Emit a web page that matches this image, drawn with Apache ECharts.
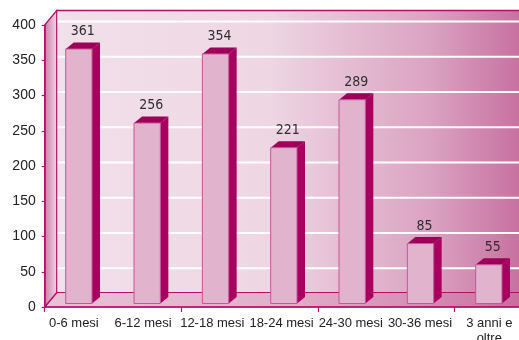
<!DOCTYPE html>
<html>
<head>
<meta charset="utf-8">
<script src="https://cdn.jsdelivr.net/npm/echarts@6/dist/echarts.min.js"></script>
<style>
  html, body { margin: 0; padding: 0; background: #ffffff; }
  #chart { width: 519px; height: 340px; }
</style>
</head>
<body>
<div id="chart"></div>
<script>
// Age classes and counts
const categories = ['0-6 mesi', '6-12 mesi', '12-18 mesi', '18-24 mesi', '24-30 mesi', '30-36 mesi', '3 anni e\noltre'];
const values = [361, 256, 354, 221, 289, 85, 55];
const yMin = 0;
const yMax = 400;
const yStep = 50;

// Palette
const MAGENTA = '#b0106c';
const BAR_SIDE = '#a8005f';
const BAR_TOP = '#9c0058';
const BAR_FRONT = '#e2b3cd';
const TEXT = '#222222';

// 3D look: depth of the room and of the bars (px)
const WALL_DX = 12, WALL_DY = 14.5;
const PLANE_LIFT = 3.5;      // bars and back gridlines sit slightly behind the axis plane
const BAR_DX = 8, BAR_DY = 6.5;

const chart = echarts.init(document.getElementById('chart'), null, { renderer: 'canvas' });

function roomItem(params, api) {
  const cs = params.coordSys;
  const left = cs.x, right = cs.x + cs.width;
  const y0 = api.coord([0, yMin])[1];
  const yTop = api.coord([0, yMax])[1];
  const children = [];

  // back wall
  children.push({
    type: 'rect',
    shape: { x: left + WALL_DX, y: yTop - WALL_DY, width: right - left - WALL_DX, height: (y0 - yTop) },
    style: {
      fill: new echarts.graphic.LinearGradient(0, 0, 1, 0, [
        { offset: 0, color: '#f1e0e9' },
        { offset: 0.45, color: '#eed7e3' },
        { offset: 0.65, color: '#e3b9d0' },
        { offset: 0.8, color: '#daa3c2' },
        { offset: 1, color: '#c76f9f' }
      ])
    }
  });
  // top border of back wall
  children.push({
    type: 'line',
    shape: { x1: left + WALL_DX, y1: yTop - WALL_DY, x2: right, y2: yTop - WALL_DY },
    style: { stroke: MAGENTA, lineWidth: 1.5 }
  });
  // white gridlines on the back wall
  for (let v = yMin + yStep; v <= yMax; v += yStep) {
    const y = api.coord([0, v])[1] - PLANE_LIFT;
    children.push({
      type: 'line',
      shape: { x1: left + WALL_DX, y1: y, x2: right, y2: y },
      style: { stroke: '#ffffff', lineWidth: 2.2 }
    });
  }
  // floor
  children.push({
    type: 'polygon',
    shape: { points: [[left, y0], [left + WALL_DX, y0 - WALL_DY], [right, y0 - WALL_DY], [right, y0]] },
    style: {
      fill: new echarts.graphic.LinearGradient(0, 0, 1, 0, [
        { offset: 0, color: '#e9c2d6' },
        { offset: 0.5, color: '#e0b0ca' },
        { offset: 0.8, color: '#d48db3' },
        { offset: 1, color: '#c86d9e' }
      ]),
      stroke: MAGENTA,
      lineWidth: 1.2
    }
  });
  // left side wall
  children.push({
    type: 'polygon',
    shape: { points: [[left, yTop], [left + WALL_DX, yTop - WALL_DY], [left + WALL_DX, y0 - WALL_DY], [left, y0]] },
    style: {
      fill: new echarts.graphic.LinearGradient(0, 0, 1, 0, [
        { offset: 0, color: '#cc79a6' },
        { offset: 1, color: '#f1d9e6' }
      ]),
      stroke: MAGENTA,
      lineWidth: 1.2
    }
  });
  return { type: 'group', children: children };
}

function barItem(params, api) {
  const i = api.value(0);
  const v = api.value(1);
  const base = api.coord([i, yMin]);
  const top = api.coord([i, v]);
  const band = api.size([1, 0])[0];
  const w = band * 0.385;
  const x0 = base[0] - w / 2;
  const yb = base[1] - PLANE_LIFT;
  const yt = top[1] - PLANE_LIFT;
  return {
    type: 'group',
    children: [
      {
        type: 'polygon',
        shape: { points: [[x0 + w, yt], [x0 + w + BAR_DX, yt - BAR_DY], [x0 + w + BAR_DX, yb - BAR_DY], [x0 + w, yb]] },
        style: { fill: BAR_SIDE }
      },
      {
        type: 'polygon',
        shape: { points: [[x0, yt], [x0 + BAR_DX, yt - BAR_DY], [x0 + w + BAR_DX, yt - BAR_DY], [x0 + w, yt]] },
        style: { fill: BAR_TOP }
      },
      {
        type: 'rect',
        shape: { x: x0, y: yt, width: w, height: yb - yt },
        style: { fill: BAR_FRONT, stroke: '#c4559a', lineWidth: 1 }
      },
      {
        type: 'text',
        style: {
          x: x0 + w / 2 + BAR_DX / 2,
          y: yt - BAR_DY - 4,
          text: String(v),
          fill: '#2e2e2e',
          font: '14px "Liberation Sans Narrow", "DejaVu Sans Condensed", sans-serif',
          textAlign: 'center',
          textVerticalAlign: 'bottom'
        }
      }
    ]
  };
}

const option = {
  animation: false,
  backgroundColor: '#ffffff',
  grid: [
    { left: 44.7, right: -4, top: 25, bottom: 33, outerBoundsMode: 'none' },
    { left: 39.2, right: -4.9, top: 25, bottom: 33, outerBoundsMode: 'none' }
  ],
  xAxis: [
    {
      type: 'category', gridIndex: 0, data: categories, z: 10,
      axisLine: { lineStyle: { color: MAGENTA, width: 1.5 } },
      axisTick: { show: true, length: 5, lineStyle: { color: MAGENTA, width: 1.2 } },
      axisLabel: { show: false },
      splitLine: { show: false }
    },
    {
      type: 'category', gridIndex: 1, data: categories, z: 10,
      axisLine: { show: false },
      axisTick: { show: false },
      axisLabel: {
        margin: 9, color: TEXT, fontSize: 13, lineHeight: 15,
        fontFamily: '"Liberation Sans", Arial, sans-serif', interval: 0
      },
      splitLine: { show: false }
    }
  ],
  yAxis: [
    {
      type: 'value', gridIndex: 0, min: yMin, max: yMax, interval: yStep, z: 10,
      axisLine: { show: true, lineStyle: { color: MAGENTA, width: 1.5 } },
      axisTick: { show: true, length: 3, lineStyle: { color: MAGENTA, width: 1.2 } },
      axisLabel: { margin: 9, color: TEXT, fontSize: 14, fontFamily: '"Liberation Sans", Arial, sans-serif' },
      splitLine: { show: false }
    },
    {
      type: 'value', gridIndex: 1, min: yMin, max: yMax, show: false
    }
  ],
  series: [
    {
      type: 'custom', xAxisIndex: 0, yAxisIndex: 0, z: 1,
      renderItem: roomItem,
      data: [[0, 0]],
      silent: true
    },
    {
      type: 'custom', xAxisIndex: 0, yAxisIndex: 0, z: 3,
      renderItem: barItem,
      data: values.map((v, i) => [i, v]),
      encode: { x: 0, y: 1 }
    }
  ]
};

chart.setOption(option);
</script>
</body>
</html>
